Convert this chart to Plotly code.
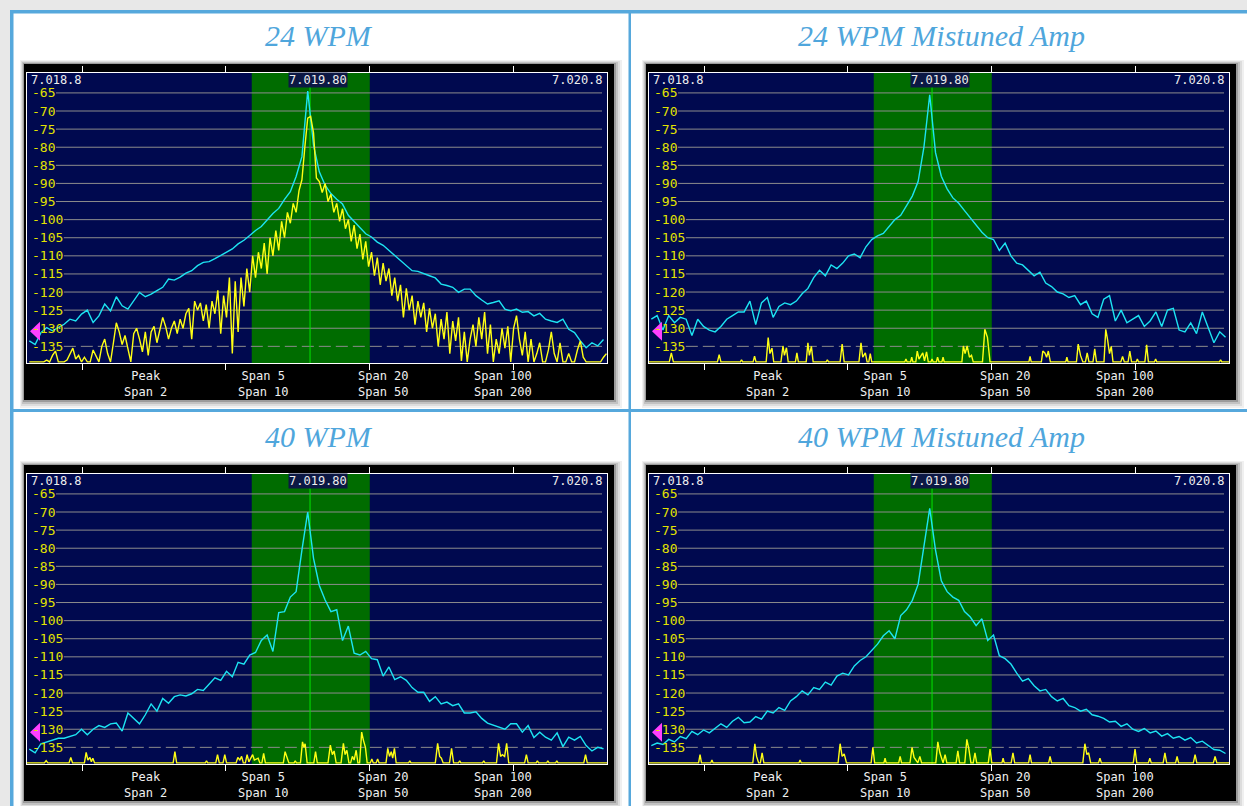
import plotly.graph_objects as go

W, H = 1247, 806
FLOOR = -139.3

# frequency bins, Hz above 7.018.8 kHz (display spans 2 kHz)
FREQ_BINS = list(range(8, 2000, 20))
FINE_BINS = list(range(8, 2000, 10))

CYAN_24 = [
    -133.5, -134.5, -131.2, -129.8, -130.7, -129.8, -128.9, -127.5, -128.0, -126.1,
    -125.0, -128.4, -126.6, -123.3, -125.2, -121.3, -123.8, -124.7, -122.4, -120.1,
    -121.3, -120.6, -119.6, -118.7, -116.4, -116.7, -115.9, -114.8, -114.1, -112.7,
    -111.8, -111.6, -110.8, -109.9, -109.0, -108.1, -106.7, -105.7, -104.4, -103.0,
    -101.9, -100.2, -98.3, -96.9, -94.4, -92.3, -88.1, -82.6, -64.5, -79.4,
    -86.8, -90.5, -92.8, -94.4, -95.7, -98.8, -100.6, -102.2, -103.9, -104.8,
    -106.2, -107.1, -108.5, -109.9, -111.3, -112.7, -114.1, -114.3, -115.0, -115.5,
    -116.1, -117.8, -118.2, -118.7, -120.1, -119.2, -119.2, -121.0, -122.2, -123.3,
    -122.9, -122.4, -124.7, -125.2, -124.7, -125.6, -125.4, -126.6, -125.9, -127.5,
    -128.0, -128.4, -127.5, -130.3, -131.2, -133.5, -135.4, -134.0, -134.9, -133.1]

YELLOW_24 = [
    -139.3, -139.3, -139.3, -139.3, -139.3, -139.3, -138.8, -139.3, -137.5, -136.3,
    -139.3, -139.3, -139.3, -138.8, -137.0, -135.5, -138.5, -137.5, -139.3, -138.0,
    -139.3, -139.3, -136.0, -137.5, -139.3, -135.0, -133.0, -137.0, -139.3, -134.0,
    -128.5, -131.0, -134.5, -132.0, -136.0, -139.3, -131.5, -130.0, -133.0, -136.5,
    -131.0, -137.5, -131.0, -129.5, -134.0, -130.5, -127.0, -129.5, -133.0, -130.0,
    -128.0, -131.5, -127.5, -130.0, -126.0, -124.5, -133.0, -122.5, -125.0, -123.0,
    -128.0, -123.5, -130.0, -122.5, -126.0, -119.5, -131.5, -121.0, -127.0, -116.0,
    -137.0, -117.0, -131.0, -116.0, -124.0, -113.5, -120.0, -110.0, -116.0, -109.0,
    -113.5, -106.5, -115.0, -105.0, -110.0, -103.0, -108.5, -100.5, -105.0, -98.0,
    -101.0, -95.5, -98.0, -92.0, -89.0, -80.0, -72.0, -71.5, -76.0, -88.5,
    -89.5, -92.5, -90.0, -95.0, -93.0, -98.0, -95.5, -100.5, -97.0, -102.5,
    -100.0, -106.0, -101.5, -108.0, -104.0, -111.0, -106.0, -113.0, -109.0, -115.5,
    -110.5, -118.0, -112.0, -117.0, -113.5, -121.0, -116.0, -122.5, -118.0, -127.0,
    -119.0, -125.0, -121.0, -129.0, -122.5, -127.0, -123.0, -131.0, -124.5, -130.0,
    -126.0, -135.0, -127.5, -133.0, -125.5, -137.0, -128.0, -133.5, -127.0, -139.0,
    -131.0, -139.3, -133.0, -129.0, -135.0, -127.0, -133.0, -125.5, -137.0, -129.0,
    -139.3, -133.0, -137.0, -130.0, -135.5, -129.5, -139.3, -130.0, -126.5, -133.0,
    -137.5, -131.0, -139.3, -133.0, -139.3, -137.0, -134.0, -139.3, -139.3, -136.0,
    -131.0, -137.0, -139.3, -134.0, -139.3, -139.3, -137.0, -139.3, -139.3, -136.0,
    -133.5, -138.0, -139.3, -139.3, -139.3, -139.3, -139.3, -139.3, -138.0, -137.0]

CYAN_24M = [
    -127.5, -126.5, -130.5, -126.5, -128.5, -127.0, -127.5, -132.0, -127.5, -129.5,
    -130.5, -131.0, -129.5, -127.5, -126.5, -125.5, -125.5, -122.5, -129.0, -123.0,
    -121.5, -127.0, -124.0, -123.0, -123.5, -122.5, -120.5, -119.0, -116.0, -114.0,
    -115.5, -112.5, -113.5, -112.0, -110.0, -109.5, -110.5, -107.5, -105.5, -104.5,
    -103.8, -102.0, -100.0, -98.8, -96.0, -93.5, -89.5, -80.0, -65.5, -81.5,
    -88.0, -91.5, -94.0, -95.5, -97.5, -99.5, -101.5, -103.5, -105.0, -105.5,
    -108.5, -106.5, -110.0, -112.0, -112.5, -114.0, -115.5, -114.5, -117.5, -118.5,
    -120.0, -120.5, -121.5, -121.0, -123.5, -122.5, -126.0, -127.0, -122.0, -121.0,
    -128.0, -125.0, -128.5, -127.5, -126.5, -129.5, -128.0, -125.5, -129.5, -125.0,
    -124.5, -130.5, -131.0, -128.5, -131.5, -125.5, -130.0, -134.0, -131.0, -132.5]

F = FLOOR
YELLOW_24M_PTS = [
    (0, F), (70, F), (77, -136.8), (84, F), (236, F), (242, -137.3), (248, F),
    (315, F), (319, -138.7), (323, F), (359, F), (364, -137.7), (369, F),
    (404, F), (411, -132.6), (417, -137.0), (424, -135.5), (430, F),
    (455, F), (462, -134.9), (467, -137.5), (474, -135.4), (480, F),
    (505, F), (510, -136.8), (515, F), (542, F), (548, -134.0), (553, -137.5), (560, -135.0), (566, F),
    (611, F), (615, -138.7), (619, F), (659, F), (666, -134.4), (673, F),
    (724, F), (731, -134.0), (737, -138.0), (746, -136.8), (752, F), (758, F), (763, -137.0), (768, F),
    (882, F), (886, -138.5), (890, F), (902, F), (906, -138.0), (910, F),
    (920, F), (925, -136.3), (931, -138.5), (944, -136.8), (950, -139.0), (957, -136.5), (963, F),
    (972, F), (976, -138.5), (980, F), (991, F), (995, -138.0), (1000, F), (1010, F), (1014, -138.0), (1018, F),
    (1079, F), (1084, -134.9), (1090, -137.0), (1097, -134.9), (1105, -138.0), (1112, -137.5), (1118, F),
    (1150, F), (1158, -130.3), (1167, -132.5), (1176, F),
    (1310, F), (1314, -137.8), (1318, F),
    (1353, F), (1358, -136.3), (1365, -136.8), (1371, -138.0), (1377, -136.3), (1384, F),
    (1437, F), (1441, -138.0), (1445, F), (1474, F), (1480, -134.4), (1488, -137.5), (1496, F),
    (1505, F), (1511, -136.8), (1517, F), (1531, F), (1537, -135.7), (1543, F),
    (1569, F), (1575, -130.3), (1581, -133.0), (1588, -137.0), (1594, -135.0), (1600, F),
    (1627, F), (1633, -137.8), (1639, F), (1652, F), (1658, -136.3), (1664, F),
    (1680, F), (1684, -138.5), (1688, F), (1710, F), (1716, -134.6), (1722, F),
    (1743, F), (1747, -138.5), (1751, F), (1967, F), (1971, -138.7), (1975, F), (2000, F)]

CYAN_40 = [
    -135.5, -136.5, -134.0, -133.5, -133.2, -132.5, -132.5, -132.0, -131.5, -130.0,
    -131.5, -130.0, -129.0, -129.5, -128.5, -128.3, -130.5, -125.5, -127.0, -128.5,
    -126.0, -123.0, -125.0, -121.5, -122.8, -121.0, -120.5, -120.8, -120.2, -119.0,
    -119.3, -117.5, -115.8, -116.5, -114.0, -115.5, -111.5, -112.0, -109.5, -108.8,
    -105.5, -104.0, -108.5, -97.8, -97.5, -93.5, -92.0, -80.5, -70.0, -82.8,
    -90.3, -94.3, -97.5, -97.0, -105.5, -101.5, -109.0, -109.5, -108.5, -110.5,
    -110.8, -115.3, -112.8, -116.3, -115.5, -116.5, -118.5, -119.8, -119.8, -122.3,
    -121.0, -123.0, -122.5, -123.5, -123.0, -125.5, -125.5, -125.2, -127.0, -128.3,
    -128.8, -129.5, -130.0, -128.5, -128.5, -130.8, -129.0, -132.3, -130.8, -132.2,
    -133.0, -131.0, -134.8, -132.2, -133.0, -132.0, -134.5, -136.0, -135.0, -135.4]

YELLOW_40_PTS = [
    (0, F), (60, F), (66, -138.7), (72, F), (145, F), (151, -137.8), (157, F),
    (198, F), (204, -136.4), (210, -138.5), (217, -137.8), (222, -139.0), (227, -138.0), (233, F),
    (504, F), (510, -136.2), (516, F), (615, F), (619, -138.7), (623, F),
    (651, F), (657, -137.0), (663, F), (676, F), (682, -137.0), (688, F),
    (721, F), (727, -137.8), (734, -138.5), (740, -137.5), (746, F),
    (753, F), (759, -137.0), (765, -139.0), (778, -137.0), (784, -138.5), (797, -138.0), (803, F),
    (810, F), (816, -136.7), (822, F), (884, F), (890, -136.2), (897, -138.0), (903, F),
    (921, F), (925, -138.7), (929, F), (943, F), (950, -133.5), (955, -135.0), (959, -134.0), (966, F),
    (989, F), (995, -136.2), (1001, F),
    (1038, F), (1046, -134.4), (1053, -137.0), (1059, -136.0), (1066, F),
    (1083, F), (1091, -133.9), (1097, -137.0), (1103, -135.8), (1110, F),
    (1116, F), (1122, -137.5), (1128, -138.5), (1135, -135.8), (1141, F),
    (1147, F), (1154, -130.8), (1160, -133.0), (1167, -135.0), (1173, F),
    (1184, F), (1189, -138.2), (1194, F), (1204, F), (1209, -138.2), (1214, F),
    (1238, F), (1244, -135.3), (1250, -137.5), (1256, -136.2), (1261, -138.0), (1267, -135.3), (1273, F),
    (1316, F), (1320, -138.7), (1324, F),
    (1408, F), (1416, -133.9), (1423, -137.5), (1429, -138.0), (1435, F),
    (1457, F), (1464, -135.3), (1471, F), (1488, F), (1492, -138.7), (1496, F),
    (1571, F), (1575, -138.7), (1579, F),
    (1619, F), (1626, -133.9), (1633, -137.5), (1639, -137.0), (1647, -137.5), (1654, -133.9), (1661, F),
    (1716, F), (1722, -137.0), (1728, F), (1756, F), (1760, -138.7), (1764, F),
    (1792, F), (1796, -138.7), (1800, F), (1823, F), (1827, -138.7), (1831, F),
    (1920, F), (1926, -137.0), (1932, F), (2000, F)]

CYAN_40M = [
    -134.5, -133.8, -134.2, -132.8, -133.5, -132.0, -132.6, -130.6, -131.5, -130.2,
    -131.0, -129.8, -128.5, -129.5, -127.8, -126.7, -128.2, -128.0, -126.5, -127.2,
    -125.0, -125.5, -124.0, -124.8, -122.2, -121.0, -119.4, -120.5, -118.5, -119.0,
    -117.0, -117.8, -115.3, -114.5, -115.0, -112.5, -111.0, -110.0, -108.3, -106.5,
    -104.2, -102.8, -105.0, -98.6, -97.0, -94.4, -90.0, -80.0, -69.0, -80.5,
    -89.0, -92.0, -93.5, -94.4, -97.5, -99.0, -101.4, -99.5, -105.5, -104.0,
    -109.7, -110.5, -112.0, -114.5, -116.7, -116.0, -118.0, -119.4, -119.0, -121.0,
    -122.2, -121.5, -123.5, -124.0, -125.0, -124.5, -126.0, -126.4, -127.0, -128.0,
    -127.8, -129.2, -128.5, -130.0, -130.6, -129.8, -131.0, -130.5, -131.9, -131.2,
    -132.5, -132.0, -133.0, -132.3, -133.8, -133.3, -134.5, -135.6, -135.8, -136.7]

YELLOW_40M_PTS = [
    (0, F), (171, F), (176, -137.0), (181, F), (213, F), (217, -138.5), (221, F),
    (358, F), (365, -134.0), (371, -137.5), (378, F), (384, F), (390, -136.5), (396, F),
    (517, F), (521, -138.5), (525, F),
    (652, F), (659, -134.0), (666, -137.5), (673, -136.8), (681, F),
    (766, F), (772, -135.0), (778, F), (810, F), (814, -138.0), (818, F),
    (861, F), (866, -137.5), (871, F),
    (900, F), (907, -135.0), (914, -137.8), (927, F), (934, -137.5), (940, F),
    (989, F), (996, -133.5), (1003, -136.5), (1014, F), (1021, -137.0), (1027, F),
    (1059, F), (1065, -136.0), (1071, F), (1089, F), (1096, -132.8), (1103, -135.5), (1110, F),
    (1118, F), (1124, -136.5), (1130, F), (1170, F), (1176, -135.5), (1182, F),
    (1217, F), (1221, -138.0), (1225, F), (1249, F), (1255, -136.5), (1261, F),
    (1309, F), (1314, -137.0), (1319, F), (1378, F), (1383, -137.5), (1388, F),
    (1496, F), (1503, -134.0), (1510, -137.0), (1516, -136.5), (1523, F),
    (1550, F), (1555, -138.0), (1560, F), (1670, F), (1676, -135.5), (1682, F),
    (1722, F), (1727, -138.0), (1732, F), (1773, F), (1779, -136.5), (1785, F),
    (1816, F), (1821, -137.5), (1826, F), (1877, F), (1883, -137.0), (1889, F),
    (1946, F), (1952, -137.5), (1958, F), (2000, F)]

TITLES = ["24 WPM", "24 WPM Mistuned Amp", "40 WPM", "40 WPM Mistuned Amp"]
DB_TICKS = [-65, -70, -75, -80, -85, -90, -95, -100, -105, -110, -115, -120, -125, -130, -135]
FREQ_LEFT, FREQ_CENTER, FREQ_RIGHT = "7.018.8", "7.019.80", "7.020.8"
FREQ_CENTER_HZ = 1005
CENTER_HZ = 976
PASSBAND_HZ = (775, 1182)
TICK_HZ = [190, 686, 1180, 1676]
BUTTON_LABELS = [("Peak", "Span 2"), ("Span 5", "Span 10"), ("Span 20", "Span 50"), ("Span 100", "Span 200")]
BUTTON_HZ = [407, 816, 1228, 1641]
MARKER_DB = -130.8
Y_RANGE = [-139.6, -59.5]
X_RANGE = [0, 2000]

# ---- styling ----
NAVY = "#00094f"
GREEN = "#006c00"
GRID = "#8c8c8c"
CENTER_GREEN = "#00e400"
CYAN = "#1de4f2"
YELLOW = "#ffff14"
LABEL_YELLOW = "#e3e300"
MAGENTA = "#ff40ff"
TITLE_BLUE = "#4fa6dc"
FRAME_BLUE = "#56a8dc"
MONO = "DejaVu Sans Mono"

PW, PH = 580, 290
ORIGINS = [(27, 73), (649, 73), (27, 474), (649, 474)]


def unzip(pts):
    return [p[0] for p in pts], [p[1] for p in pts]


y24m_x, y24m_y = unzip(YELLOW_24M_PTS)
y40_x, y40_y = unzip(YELLOW_40_PTS)
y40m_x, y40m_y = unzip(YELLOW_40M_PTS)

PANELS = [
    (CYAN_24, FINE_BINS, YELLOW_24),
    (CYAN_24M, y24m_x, y24m_y),
    (CYAN_40, y40_x, y40_y),
    (CYAN_40M, y40m_x, y40m_y),
]


def px(x):
    return x / W


def py(y):
    return 1 - y / H


def prect(x0, y0, x1, y1, color, opacity=1.0):
    return dict(type="rect", xref="paper", yref="paper", x0=px(x0), x1=px(x1),
                y0=py(y1), y1=py(y0), fillcolor=color, opacity=opacity,
                line=dict(width=0), layer="below")


fig = go.Figure()
shapes = []
annotations = []
layout = {}

# page background and frame
shapes.append(prect(0, 0, W, 10, "#e8e8e8"))
shapes.append(prect(0, 0, 10, H, "#e8e8e8"))
shapes.append(prect(10, 10, W, 13.5, FRAME_BLUE))
shapes.append(prect(10, 10, 13.5, H, FRAME_BLUE))
shapes.append(prect(628.5, 10, 631, H, FRAME_BLUE))
shapes.append(prect(10, 409, W, 412, FRAME_BLUE))

for k, (cyan, yx, yy) in enumerate(PANELS):
    L, T = ORIGINS[k]
    n = "" if k == 0 else str(k + 1)
    xname, yname = "x" + n, "y" + n

    # black instrument box with soft shadow
    bx0, by0, bx1, by1 = L - 3, T - 9, L + 587, T + 327
    for d, op in [(8, 0.06), (6, 0.08), (4, 0.12), (2, 0.2)]:
        shapes.append(prect(bx0 - d / 2, by0 - d / 2, bx1 + d, by1 + d, "#000000", op))
    shapes.append(prect(bx0, by0, bx1, by1, "#000000"))
    shapes.append(prect(L, T, L + PW, T + PH, NAVY))

    # passband
    shapes.append(dict(type="rect", xref=xname, yref=yname, x0=PASSBAND_HZ[0], x1=PASSBAND_HZ[1],
                       y0=Y_RANGE[0], y1=Y_RANGE[1], fillcolor=GREEN, line=dict(width=0), layer="below"))
    # dB grid lines and labels
    hz_per_px = (X_RANGE[1] - X_RANGE[0]) / PW
    for v in DB_TICKS:
        lab = str(v)
        start_px = 4 + 7.83 * len(lab) + 1.5
        shapes.append(dict(type="line", xref=xname, yref=yname, x0=start_px * hz_per_px,
                           x1=575 * hz_per_px, y0=v, y1=v,
                           line=dict(color=GRID, width=1, dash=("12px,5px" if v == -135 else "solid")),
                           layer="below"))
        annotations.append(dict(xref=xname, yref=yname, x=4 * hz_per_px, y=v, text=lab,
                                xanchor="left", yanchor="middle", showarrow=False, borderpad=0,
                                font=dict(family=MONO, size=13, color=LABEL_YELLOW)))
    # tuning centre line
    shapes.append(dict(type="line", xref=xname, yref=yname, x0=CENTER_HZ, x1=CENTER_HZ,
                       y0=Y_RANGE[0], y1=Y_RANGE[1], line=dict(color=CENTER_GREEN, width=1),
                       layer="below"))

    # traces
    fig.add_trace(go.Scatter(x=FREQ_BINS, y=cyan, mode="lines", line=dict(color=CYAN, width=1.4),
                             xaxis=xname, yaxis=yname, hoverinfo="skip", showlegend=False))
    fig.add_trace(go.Scatter(x=yx, y=yy, mode="lines", line=dict(color=YELLOW, width=1.4),
                             xaxis=xname, yaxis=yname, hoverinfo="skip", showlegend=False))

    layout["xaxis" + n] = dict(domain=[px(L), px(L + PW)], range=X_RANGE, anchor=yname,
                               showgrid=False, zeroline=False, showline=True, linecolor="white",
                               linewidth=1, mirror="ticks", ticks="outside", ticklen=6,
                               tickcolor="white", tickwidth=1, tickvals=TICK_HZ,
                               showticklabels=False, fixedrange=True)
    layout["yaxis" + n] = dict(domain=[py(T + PH), py(T)], range=Y_RANGE, anchor=xname,
                               showgrid=False, zeroline=False, showline=True, linecolor="white",
                               linewidth=1, mirror=True, ticks="", showticklabels=False,
                               fixedrange=True)

    # frequency readouts
    ytop = py(T + 7)
    annotations.append(dict(xref=xname, yref="paper", x=3 * hz_per_px, y=ytop, text=FREQ_LEFT,
                            xanchor="left", yanchor="middle", showarrow=False, borderpad=0,
                            font=dict(family=MONO, size=12, color="#eeeeee")))
    annotations.append(dict(xref=xname, yref="paper", x=FREQ_CENTER_HZ, y=ytop, text=FREQ_CENTER,
                            xanchor="center", yanchor="middle", showarrow=False, bgcolor="#0c1844",
                            borderpad=0, font=dict(family=MONO, size=12, color="#eeeeee")))
    annotations.append(dict(xref=xname, yref="paper", x=577 * hz_per_px, y=ytop, text=FREQ_RIGHT,
                            xanchor="right", yanchor="middle", showarrow=False, borderpad=0,
                            font=dict(family=MONO, size=12, color="#eeeeee")))
    # span buttons
    for (l1, l2), hz in zip(BUTTON_LABELS, BUTTON_HZ):
        annotations.append(dict(xref=xname, yref="paper", x=hz, y=py(T + 311), text=l1 + "<br>" + l2,
                                xanchor="center", yanchor="middle", align="center", showarrow=False,
                                borderpad=0, font=dict(family=MONO, size=12, color="#f0f0f0")))
    # title
    annotations.append(dict(xref="paper", yref="paper", x=px(L + 292), y=py(T - 37.5),
                            text="<i>" + TITLES[k] + "</i>", xanchor="center", yanchor="middle",
                            showarrow=False,
                            font=dict(family="Liberation Serif", size=30, color=TITLE_BLUE)))
    # threshold marker (pink arrow)
    ym = T + (Y_RANGE[1] - MARKER_DB) * PH / (Y_RANGE[1] - Y_RANGE[0])
    shapes.append(dict(type="path", xref="paper", yref="paper",
                       path=f"M {px(L + 3)},{py(ym)} L {px(L + 13)},{py(ym - 9.5)} L {px(L + 13)},{py(ym + 9.5)} Z",
                       fillcolor=MAGENTA, line=dict(width=0), layer="above"))

fig.update_layout(
    width=W, height=H, margin=dict(l=0, r=0, t=0, b=0),
    paper_bgcolor="white", plot_bgcolor="rgba(0,0,0,0)",
    showlegend=False, shapes=shapes, annotations=annotations, **layout)

fig.write_html("out.html", config={"displayModeBar": False},
               post_script="document.body.style.margin='0px';document.body.style.overflow='hidden';")
